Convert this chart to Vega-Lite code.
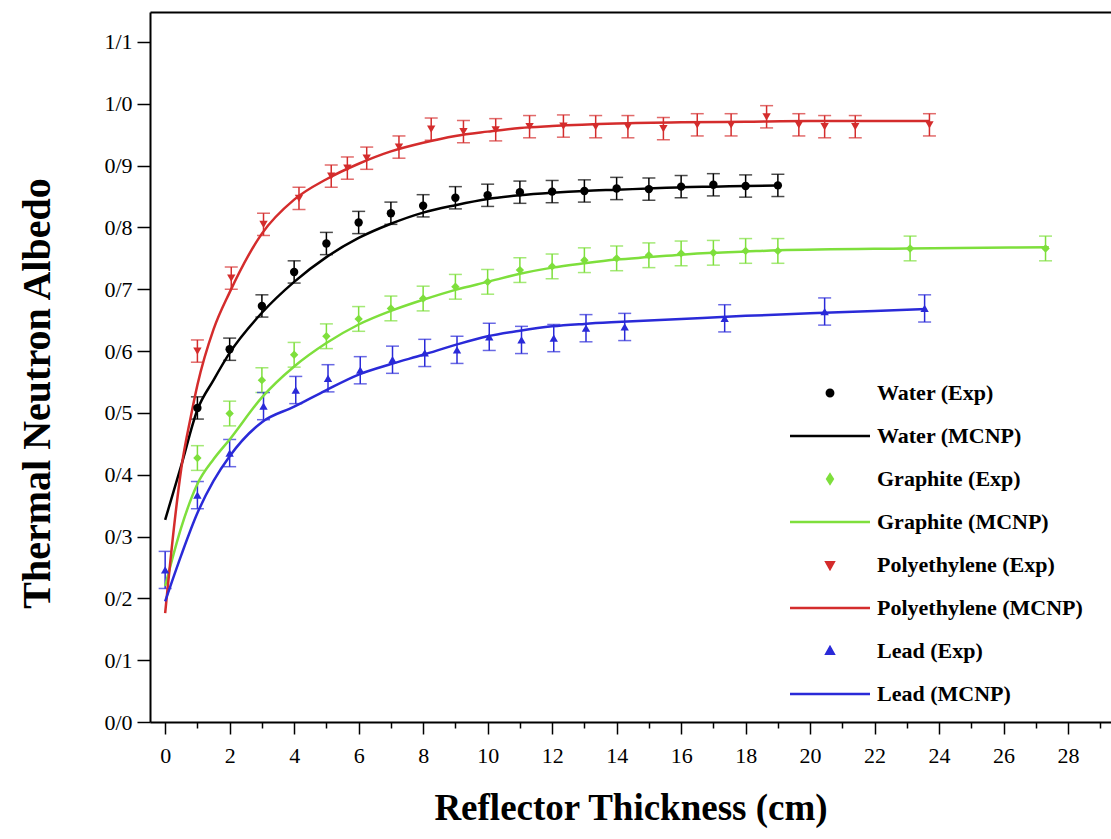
{
  "$schema": "https://vega.github.io/schema/vega-lite/v6.json",
  "autosize": {"type": "none"},
  "padding": {"left": 150, "top": 12, "right": 0, "bottom": 117},
  "width": 961,
  "height": 710,
  "background": "white",
  "config": {
    "view": {"stroke": null},
    "axis": {
      "grid": false,
      "domainColor": "black",
      "domainWidth": 2,
      "tickColor": "black",
      "tickWidth": 1.5,
      "labelFont": "Liberation Serif",
      "labelFontSize": 22,
      "labelColor": "black",
      "titleFont": "Liberation Serif",
      "titleFontWeight": "bold",
      "titleFontSize": 37,
      "titleColor": "black"
    },
    "legend": {
      "orient": "none",
      "legendX": 638.5,
      "legendY": 359.5,
      "padding": 0,
      "rowPadding": 0,
      "symbolSize": 6400,
      "clipHeight": 43,
      "symbolStrokeWidth": 2.5,
      "labelFont": "Liberation Serif",
      "labelFontWeight": "bold",
      "labelFontSize": 22,
      "labelColor": "black",
      "labelOffset": 5.5,
      "labelLimit": 400
    }
  },
  "resolve": {"axis": {"x": "independent"}},
  "datasets": {
    "exp": [
      {"series": "Water (Exp)", "x": 1, "y": 0.508, "err": 0.018},
      {"series": "Water (Exp)", "x": 2, "y": 0.603, "err": 0.018},
      {"series": "Water (Exp)", "x": 3, "y": 0.673, "err": 0.018},
      {"series": "Water (Exp)", "x": 4, "y": 0.728, "err": 0.018},
      {"series": "Water (Exp)", "x": 5, "y": 0.774, "err": 0.018},
      {"series": "Water (Exp)", "x": 6, "y": 0.808, "err": 0.018},
      {"series": "Water (Exp)", "x": 7, "y": 0.823, "err": 0.018},
      {"series": "Water (Exp)", "x": 8, "y": 0.835, "err": 0.018},
      {"series": "Water (Exp)", "x": 9, "y": 0.848, "err": 0.018},
      {"series": "Water (Exp)", "x": 10, "y": 0.852, "err": 0.018},
      {"series": "Water (Exp)", "x": 11, "y": 0.857, "err": 0.018},
      {"series": "Water (Exp)", "x": 12, "y": 0.858, "err": 0.018},
      {"series": "Water (Exp)", "x": 13, "y": 0.859, "err": 0.018},
      {"series": "Water (Exp)", "x": 14, "y": 0.863, "err": 0.018},
      {"series": "Water (Exp)", "x": 15, "y": 0.862, "err": 0.018},
      {"series": "Water (Exp)", "x": 16, "y": 0.866, "err": 0.018},
      {"series": "Water (Exp)", "x": 17, "y": 0.869, "err": 0.018},
      {"series": "Water (Exp)", "x": 18, "y": 0.867, "err": 0.018},
      {"series": "Water (Exp)", "x": 19, "y": 0.868, "err": 0.018},
      {"series": "Graphite (Exp)", "x": 1, "y": 0.427, "err": 0.02},
      {"series": "Graphite (Exp)", "x": 2, "y": 0.499, "err": 0.02},
      {"series": "Graphite (Exp)", "x": 3, "y": 0.553, "err": 0.02},
      {"series": "Graphite (Exp)", "x": 4, "y": 0.594, "err": 0.02},
      {"series": "Graphite (Exp)", "x": 5, "y": 0.624, "err": 0.02},
      {"series": "Graphite (Exp)", "x": 6, "y": 0.652, "err": 0.02},
      {"series": "Graphite (Exp)", "x": 7, "y": 0.669, "err": 0.02},
      {"series": "Graphite (Exp)", "x": 8, "y": 0.685, "err": 0.02},
      {"series": "Graphite (Exp)", "x": 9, "y": 0.704, "err": 0.02},
      {"series": "Graphite (Exp)", "x": 10, "y": 0.712, "err": 0.02},
      {"series": "Graphite (Exp)", "x": 11, "y": 0.731, "err": 0.02},
      {"series": "Graphite (Exp)", "x": 12, "y": 0.737, "err": 0.02},
      {"series": "Graphite (Exp)", "x": 13, "y": 0.747, "err": 0.02},
      {"series": "Graphite (Exp)", "x": 14, "y": 0.750, "err": 0.02},
      {"series": "Graphite (Exp)", "x": 15, "y": 0.755, "err": 0.02},
      {"series": "Graphite (Exp)", "x": 16, "y": 0.758, "err": 0.02},
      {"series": "Graphite (Exp)", "x": 17, "y": 0.759, "err": 0.02},
      {"series": "Graphite (Exp)", "x": 18, "y": 0.762, "err": 0.02},
      {"series": "Graphite (Exp)", "x": 19, "y": 0.762, "err": 0.02},
      {"series": "Graphite (Exp)", "x": 23.1, "y": 0.766, "err": 0.02},
      {"series": "Graphite (Exp)", "x": 27.3, "y": 0.766, "err": 0.02},
      {"series": "Polyethylene (Exp)", "x": 1, "y": 0.600, "err": 0.018},
      {"series": "Polyethylene (Exp)", "x": 2.05, "y": 0.718, "err": 0.018},
      {"series": "Polyethylene (Exp)", "x": 3.05, "y": 0.805, "err": 0.018},
      {"series": "Polyethylene (Exp)", "x": 4.15, "y": 0.847, "err": 0.018},
      {"series": "Polyethylene (Exp)", "x": 5.15, "y": 0.883, "err": 0.018},
      {"series": "Polyethylene (Exp)", "x": 5.65, "y": 0.896, "err": 0.018},
      {"series": "Polyethylene (Exp)", "x": 6.25, "y": 0.912, "err": 0.018},
      {"series": "Polyethylene (Exp)", "x": 7.25, "y": 0.930, "err": 0.018},
      {"series": "Polyethylene (Exp)", "x": 8.25, "y": 0.959, "err": 0.018},
      {"series": "Polyethylene (Exp)", "x": 9.25, "y": 0.955, "err": 0.018},
      {"series": "Polyethylene (Exp)", "x": 10.25, "y": 0.958, "err": 0.018},
      {"series": "Polyethylene (Exp)", "x": 11.3, "y": 0.963, "err": 0.018},
      {"series": "Polyethylene (Exp)", "x": 12.35, "y": 0.964, "err": 0.018},
      {"series": "Polyethylene (Exp)", "x": 13.35, "y": 0.963, "err": 0.018},
      {"series": "Polyethylene (Exp)", "x": 14.35, "y": 0.963, "err": 0.018},
      {"series": "Polyethylene (Exp)", "x": 15.45, "y": 0.960, "err": 0.018},
      {"series": "Polyethylene (Exp)", "x": 16.5, "y": 0.966, "err": 0.018},
      {"series": "Polyethylene (Exp)", "x": 17.55, "y": 0.966, "err": 0.018},
      {"series": "Polyethylene (Exp)", "x": 18.65, "y": 0.979, "err": 0.018},
      {"series": "Polyethylene (Exp)", "x": 19.65, "y": 0.966, "err": 0.018},
      {"series": "Polyethylene (Exp)", "x": 20.45, "y": 0.963, "err": 0.018},
      {"series": "Polyethylene (Exp)", "x": 21.4, "y": 0.963, "err": 0.018},
      {"series": "Polyethylene (Exp)", "x": 23.7, "y": 0.966, "err": 0.018},
      {"series": "Lead (Exp)", "x": 0, "y": 0.246, "err": 0.03},
      {"series": "Lead (Exp)", "x": 1, "y": 0.367, "err": 0.022},
      {"series": "Lead (Exp)", "x": 2, "y": 0.435, "err": 0.022},
      {"series": "Lead (Exp)", "x": 3.05, "y": 0.511, "err": 0.022},
      {"series": "Lead (Exp)", "x": 4.05, "y": 0.537, "err": 0.022},
      {"series": "Lead (Exp)", "x": 5.05, "y": 0.556, "err": 0.022},
      {"series": "Lead (Exp)", "x": 6.05, "y": 0.569, "err": 0.022},
      {"series": "Lead (Exp)", "x": 7.05, "y": 0.586, "err": 0.022},
      {"series": "Lead (Exp)", "x": 8.05, "y": 0.597, "err": 0.022},
      {"series": "Lead (Exp)", "x": 9.05, "y": 0.602, "err": 0.022},
      {"series": "Lead (Exp)", "x": 10.05, "y": 0.623, "err": 0.022},
      {"series": "Lead (Exp)", "x": 11.05, "y": 0.618, "err": 0.022},
      {"series": "Lead (Exp)", "x": 12.05, "y": 0.621, "err": 0.022},
      {"series": "Lead (Exp)", "x": 13.05, "y": 0.637, "err": 0.022},
      {"series": "Lead (Exp)", "x": 14.25, "y": 0.639, "err": 0.022},
      {"series": "Lead (Exp)", "x": 17.35, "y": 0.653, "err": 0.022},
      {"series": "Lead (Exp)", "x": 20.45, "y": 0.664, "err": 0.022},
      {"series": "Lead (Exp)", "x": 23.55, "y": 0.669, "err": 0.022}
    ],
    "mcnp": [
      {"series": "Water (MCNP)", "x": 0, "y": 0.327},
      {"series": "Water (MCNP)", "x": 0.5, "y": 0.415},
      {"series": "Water (MCNP)", "x": 1, "y": 0.505},
      {"series": "Water (MCNP)", "x": 1.5, "y": 0.553},
      {"series": "Water (MCNP)", "x": 2, "y": 0.597},
      {"series": "Water (MCNP)", "x": 3, "y": 0.662},
      {"series": "Water (MCNP)", "x": 4, "y": 0.712},
      {"series": "Water (MCNP)", "x": 5, "y": 0.752},
      {"series": "Water (MCNP)", "x": 6, "y": 0.783},
      {"series": "Water (MCNP)", "x": 7, "y": 0.806},
      {"series": "Water (MCNP)", "x": 8, "y": 0.824},
      {"series": "Water (MCNP)", "x": 9, "y": 0.836},
      {"series": "Water (MCNP)", "x": 10, "y": 0.846},
      {"series": "Water (MCNP)", "x": 11, "y": 0.852},
      {"series": "Water (MCNP)", "x": 12, "y": 0.856},
      {"series": "Water (MCNP)", "x": 13, "y": 0.859},
      {"series": "Water (MCNP)", "x": 14, "y": 0.861},
      {"series": "Water (MCNP)", "x": 15, "y": 0.863},
      {"series": "Water (MCNP)", "x": 16, "y": 0.865},
      {"series": "Water (MCNP)", "x": 17, "y": 0.866},
      {"series": "Water (MCNP)", "x": 18, "y": 0.867},
      {"series": "Water (MCNP)", "x": 19, "y": 0.868},
      {"series": "Graphite (MCNP)", "x": 0, "y": 0.22},
      {"series": "Graphite (MCNP)", "x": 0.5, "y": 0.315},
      {"series": "Graphite (MCNP)", "x": 1, "y": 0.385},
      {"series": "Graphite (MCNP)", "x": 1.5, "y": 0.425},
      {"series": "Graphite (MCNP)", "x": 2, "y": 0.457},
      {"series": "Graphite (MCNP)", "x": 3, "y": 0.525},
      {"series": "Graphite (MCNP)", "x": 4, "y": 0.575},
      {"series": "Graphite (MCNP)", "x": 5, "y": 0.613},
      {"series": "Graphite (MCNP)", "x": 6, "y": 0.643},
      {"series": "Graphite (MCNP)", "x": 7, "y": 0.665},
      {"series": "Graphite (MCNP)", "x": 8, "y": 0.683},
      {"series": "Graphite (MCNP)", "x": 9, "y": 0.699},
      {"series": "Graphite (MCNP)", "x": 10, "y": 0.712},
      {"series": "Graphite (MCNP)", "x": 11, "y": 0.725},
      {"series": "Graphite (MCNP)", "x": 12, "y": 0.735},
      {"series": "Graphite (MCNP)", "x": 13, "y": 0.742},
      {"series": "Graphite (MCNP)", "x": 14, "y": 0.748},
      {"series": "Graphite (MCNP)", "x": 15, "y": 0.752},
      {"series": "Graphite (MCNP)", "x": 16, "y": 0.756},
      {"series": "Graphite (MCNP)", "x": 17, "y": 0.759},
      {"series": "Graphite (MCNP)", "x": 18, "y": 0.761},
      {"series": "Graphite (MCNP)", "x": 19, "y": 0.763},
      {"series": "Graphite (MCNP)", "x": 23, "y": 0.766},
      {"series": "Graphite (MCNP)", "x": 27.4, "y": 0.768},
      {"series": "Polyethylene (MCNP)", "x": 0, "y": 0.176},
      {"series": "Polyethylene (MCNP)", "x": 0.3, "y": 0.327},
      {"series": "Polyethylene (MCNP)", "x": 0.5, "y": 0.41},
      {"series": "Polyethylene (MCNP)", "x": 0.8, "y": 0.495},
      {"series": "Polyethylene (MCNP)", "x": 1, "y": 0.545},
      {"series": "Polyethylene (MCNP)", "x": 1.5, "y": 0.635},
      {"series": "Polyethylene (MCNP)", "x": 2, "y": 0.695},
      {"series": "Polyethylene (MCNP)", "x": 3, "y": 0.79},
      {"series": "Polyethylene (MCNP)", "x": 4, "y": 0.845},
      {"series": "Polyethylene (MCNP)", "x": 5, "y": 0.878},
      {"series": "Polyethylene (MCNP)", "x": 6, "y": 0.903},
      {"series": "Polyethylene (MCNP)", "x": 7, "y": 0.923},
      {"series": "Polyethylene (MCNP)", "x": 8, "y": 0.937},
      {"series": "Polyethylene (MCNP)", "x": 9, "y": 0.948},
      {"series": "Polyethylene (MCNP)", "x": 10, "y": 0.955},
      {"series": "Polyethylene (MCNP)", "x": 11, "y": 0.961},
      {"series": "Polyethylene (MCNP)", "x": 12, "y": 0.964},
      {"series": "Polyethylene (MCNP)", "x": 14, "y": 0.968},
      {"series": "Polyethylene (MCNP)", "x": 16, "y": 0.97},
      {"series": "Polyethylene (MCNP)", "x": 18, "y": 0.971},
      {"series": "Polyethylene (MCNP)", "x": 20, "y": 0.972},
      {"series": "Polyethylene (MCNP)", "x": 23.7, "y": 0.972},
      {"series": "Lead (MCNP)", "x": 0, "y": 0.195},
      {"series": "Lead (MCNP)", "x": 0.5, "y": 0.27},
      {"series": "Lead (MCNP)", "x": 1, "y": 0.338},
      {"series": "Lead (MCNP)", "x": 1.5, "y": 0.39},
      {"series": "Lead (MCNP)", "x": 2, "y": 0.43},
      {"series": "Lead (MCNP)", "x": 3, "y": 0.485},
      {"series": "Lead (MCNP)", "x": 4, "y": 0.51},
      {"series": "Lead (MCNP)", "x": 5, "y": 0.537},
      {"series": "Lead (MCNP)", "x": 6, "y": 0.562},
      {"series": "Lead (MCNP)", "x": 7, "y": 0.579},
      {"series": "Lead (MCNP)", "x": 8, "y": 0.594},
      {"series": "Lead (MCNP)", "x": 9, "y": 0.61},
      {"series": "Lead (MCNP)", "x": 10, "y": 0.624},
      {"series": "Lead (MCNP)", "x": 11, "y": 0.633},
      {"series": "Lead (MCNP)", "x": 12, "y": 0.64},
      {"series": "Lead (MCNP)", "x": 13, "y": 0.644},
      {"series": "Lead (MCNP)", "x": 14, "y": 0.647},
      {"series": "Lead (MCNP)", "x": 16, "y": 0.652},
      {"series": "Lead (MCNP)", "x": 18, "y": 0.657},
      {"series": "Lead (MCNP)", "x": 20, "y": 0.661},
      {"series": "Lead (MCNP)", "x": 22, "y": 0.665},
      {"series": "Lead (MCNP)", "x": 23.6, "y": 0.668}
    ]
  },
  "layer": [
    {
      "data": {"name": "exp"},
      "mark": {"type": "errorbar", "ticks": {"size": 13, "thickness": 1.5}, "thickness": 1.5},
      "encoding": {
        "x": {"field": "x", "type": "quantitative", "scale": {"domain": [-0.47, 29.33], "nice": false, "zero": false}, "axis": null},
        "y": {"field": "y", "type": "quantitative", "scale": {"domain": [0, 1.1485], "nice": false}, "title": "Thermal Neutron Albedo"},
        "yError": {"field": "err"},
        "color": {"field": "series", "type": "nominal", "title": null,
          "scale": {"domain": ["Water (Exp)", "Water (MCNP)", "Graphite (Exp)", "Graphite (MCNP)", "Polyethylene (Exp)", "Polyethylene (MCNP)", "Lead (Exp)", "Lead (MCNP)"],
                    "range": ["#000000", "#000000", "#7edf3c", "#7edf3c", "#d42c2c", "#d42c2c", "#2a2ad8", "#2a2ad8"]}}
      }
    },
    {
      "data": {"name": "mcnp"},
      "mark": {"type": "line", "interpolate": "monotone", "strokeWidth": 2.5},
      "encoding": {
        "x": {"field": "x", "type": "quantitative", "scale": {"domain": [-0.47, 29.33], "nice": false, "zero": false},
          "axis": {"orient": "top", "ticks": false, "labels": false, "title": null, "domainWidth": 2}},
        "y": {"field": "y", "type": "quantitative", "scale": {"domain": [0, 1.1485], "nice": false},
          "title": "Thermal Neutron Albedo",
          "axis": {
            "values": [0, 0.05, 0.1, 0.15, 0.2, 0.25, 0.3, 0.35, 0.4, 0.45, 0.5, 0.55, 0.6, 0.65, 0.7, 0.75, 0.8, 0.85, 0.9, 0.95, 1.0, 1.05, 1.1],
            "labelExpr": "round(datum.value*100) % 10 == 0 ? replace(format(datum.value, '.1f'), '.', '/') : ''",
            "tickSize": {"condition": {"test": "round(datum.value*100) % 10 == 0", "value": 13}, "value": 7},
            "labelPadding": 5,
            "titleFontSize": 40,
            "titlePadding": 46,
            "titleY": 381
          }},
        "color": {"field": "series", "type": "nominal", "title": null,
          "scale": {"domain": ["Water (Exp)", "Water (MCNP)", "Graphite (Exp)", "Graphite (MCNP)", "Polyethylene (Exp)", "Polyethylene (MCNP)", "Lead (Exp)", "Lead (MCNP)"],
                    "range": ["#000000", "#000000", "#7edf3c", "#7edf3c", "#d42c2c", "#d42c2c", "#2a2ad8", "#2a2ad8"]},
          "legend": {
            "title": null,
            "encode": {
              "symbols": {
                "update": {
                  "shape": {"signal": "test(/MCNP/, datum.value) ? 'M-1,0H1' : test(/Water/, datum.value) ? 'M-0.08,0A0.08,0.08,0,1,1,0.08,0A0.08,0.08,0,1,1,-0.08,0Z' : test(/Graphite/, datum.value) ? 'M0,-0.11L0.07,0L0,0.11L-0.07,0Z' : test(/Poly/, datum.value) ? 'M-0.09,-0.07L0.09,-0.07L0,0.09Z' : 'M-0.09,0.07L0.09,0.07L0,-0.09Z'"},
                  "fill": {"scale": "color", "field": "value"},
                  "stroke": {"scale": "color", "field": "value"},
                  "strokeWidth": {"value": 2.5},
                  "opacity": {"value": 1},
                  "fillOpacity": {"value": 1},
                  "strokeOpacity": {"value": 1}
                }
              }
            }
          }}
      }
    },
    {
      "data": {"name": "exp"},
      "mark": {"type": "point", "filled": true, "opacity": 1, "size": 70},
      "encoding": {
        "x": {"field": "x", "type": "quantitative", "scale": {"domain": [-0.47, 29.33], "nice": false, "zero": false},
          "title": "Reflector Thickness (cm)",
          "axis": {
            "orient": "bottom",
            "values": [0, 1, 2, 3, 4, 5, 6, 7, 8, 9, 10, 11, 12, 13, 14, 15, 16, 17, 18, 19, 20, 21, 22, 23, 24, 25, 26, 27, 28, 29],
            "labelExpr": "datum.value % 2 == 0 ? format(datum.value, 'd') : ''",
            "tickSize": {"condition": {"test": "datum.value % 2 == 0", "value": 12}, "value": 6},
            "labelPadding": 11,
            "titlePadding": 24
          }},
        "y": {"field": "y", "type": "quantitative", "scale": {"domain": [0, 1.1485], "nice": false}, "title": "Thermal Neutron Albedo"},
        "shape": {"field": "series", "type": "nominal", "legend": null,
          "scale": {"domain": ["Water (Exp)", "Graphite (Exp)", "Polyethylene (Exp)", "Lead (Exp)"],
                    "range": ["circle", "diamond", "triangle-down", "triangle-up"]}},
        "color": {"field": "series", "type": "nominal", "title": null,
          "scale": {"domain": ["Water (Exp)", "Water (MCNP)", "Graphite (Exp)", "Graphite (MCNP)", "Polyethylene (Exp)", "Polyethylene (MCNP)", "Lead (Exp)", "Lead (MCNP)"],
                    "range": ["#000000", "#000000", "#7edf3c", "#7edf3c", "#d42c2c", "#d42c2c", "#2a2ad8", "#2a2ad8"]}}
      }
    }
  ]
}
